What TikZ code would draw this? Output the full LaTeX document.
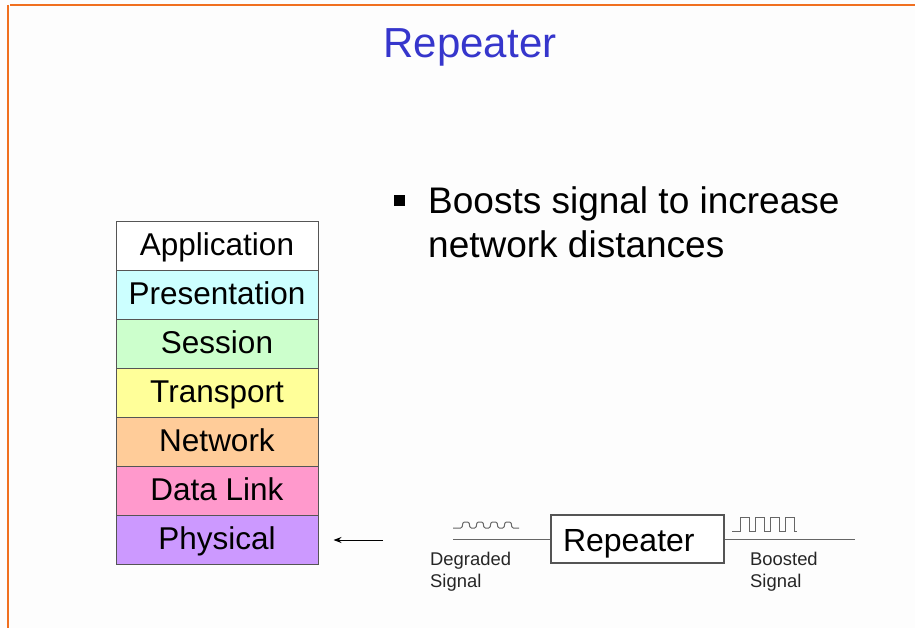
\documentclass[tikz,border=0pt]{standalone}
\usepackage{fontspec}
\setmainfont{Liberation Sans}
\usetikzlibrary{arrows.meta}
\definecolor{bgc}{HTML}{FDFDFD}
\definecolor{frameorange}{HTML}{F07020}
\definecolor{titleblue}{HTML}{3636CC}
\definecolor{cpres}{HTML}{CCFFFF}
\definecolor{csess}{HTML}{CCFFCC}
\definecolor{ctrans}{HTML}{FFFF99}
\definecolor{cnet}{HTML}{FFCC99}
\definecolor{cdl}{HTML}{FF99CC}
\definecolor{cphys}{HTML}{CC99FF}
\definecolor{edgegrey}{HTML}{555555}
\definecolor{wavegrey}{HTML}{666666}
\tikzset{
  layer/.style={draw=edgegrey, line width=1pt, minimum width=202pt, minimum height=49pt,
    inner sep=0pt, text height=25pt, text depth=6pt, font=\fontsize{31.5}{36}\selectfont},
  wire/.style={draw=wavegrey, line width=1.1pt},
  wave/.style={draw=wavegrey, line width=1pt},
  smalllabel/.style={font=\fontsize{18.4}{22}\selectfont, align=left, inner sep=0pt, text=black!85},
}
\begin{document}
\begin{tikzpicture}[x=1pt, y=-1pt]
\useasboundingbox (0,0) rectangle (915,628);
\fill[bgc] (0,0) rectangle (915,628);
% frame lines
\draw[frameorange, line width=1.6pt] (10,5) -- (915,5);
\draw[frameorange, line width=1.6pt] (8,5) -- (8,628);
% title
\node[text=titleblue, font=\fontsize{42}{48}\selectfont, anchor=base, inner sep=0pt] (title) at (470,58) {Repeater};
% bullet
\fill[black] (394,195) rectangle (405,206);
\node[font=\fontsize{37}{44}\selectfont, anchor=base west, align=left, inner sep=0pt] (bullet) at (428,258) {Boosts signal to increase\\network distances};
% OSI stack
\node[layer, fill=white] (app) at (217,246) {Application};
\node[layer, fill=cpres] (pres) at (217,295) {Presentation};
\node[layer, fill=csess] (sess) at (217,344) {Session};
\node[layer, fill=ctrans] (trans) at (217,393) {Transport};
\node[layer, fill=cnet] (net) at (217,442) {Network};
\node[layer, fill=cdl] (dl) at (217,491) {Data Link};
\node[layer, fill=cphys] (phys) at (217,540) {Physical};
% repeater box
\node[draw=edgegrey, line width=1.3pt, fill=white, minimum height=48pt, inner xsep=12pt, inner ysep=0pt,
  text width=149pt, align=left,
  text height=30pt, text depth=6pt, font=\fontsize{32}{36}\selectfont] (rep) at (637.5,539) {Repeater};
% wires
\coordinate (arrstart) at (383,540);
\coordinate (wl) at (453,539.5);
\coordinate (wr) at (855,539.5);
\draw[black, line width=1pt, -{Stealth[length=8pt,width=6pt]}, shorten >=15pt] (arrstart) -- (phys.east |- arrstart);
\draw[wire] (wl) -- (wl -| rep.west);
\draw[wire] (rep.east |- wr) -- (wr);
% degraded waveform
\draw[wave, rounded corners=1.3pt] (453,528) -- (462,528) -- (463,522) -- (469,522) -- (470,528) -- (476,528)
  -- (477,522) -- (483,522) -- (484,528) -- (490,528) -- (491,522) -- (497,522) -- (498,528) -- (504,528)
  -- (505,522) -- (511,522) -- (512,528) -- (519,528);
% boosted waveform
\draw[wave] (732,531) -- (740,531) -- (740,517) -- (749,517) -- (749,531) -- (755,531) -- (755,517) -- (764,517)
  -- (764,531) -- (770,531) -- (770,517) -- (779,517) -- (779,531) -- (785,531) -- (785,517) -- (794,517) -- (794,531) -- (797,531);
% labels
\node[smalllabel, anchor=base west] (deg) at (430,587) {Degraded\\Signal};
\node[smalllabel, anchor=base west] (boo) at (750,587) {Boosted\\Signal};
\end{tikzpicture}
\end{document}
